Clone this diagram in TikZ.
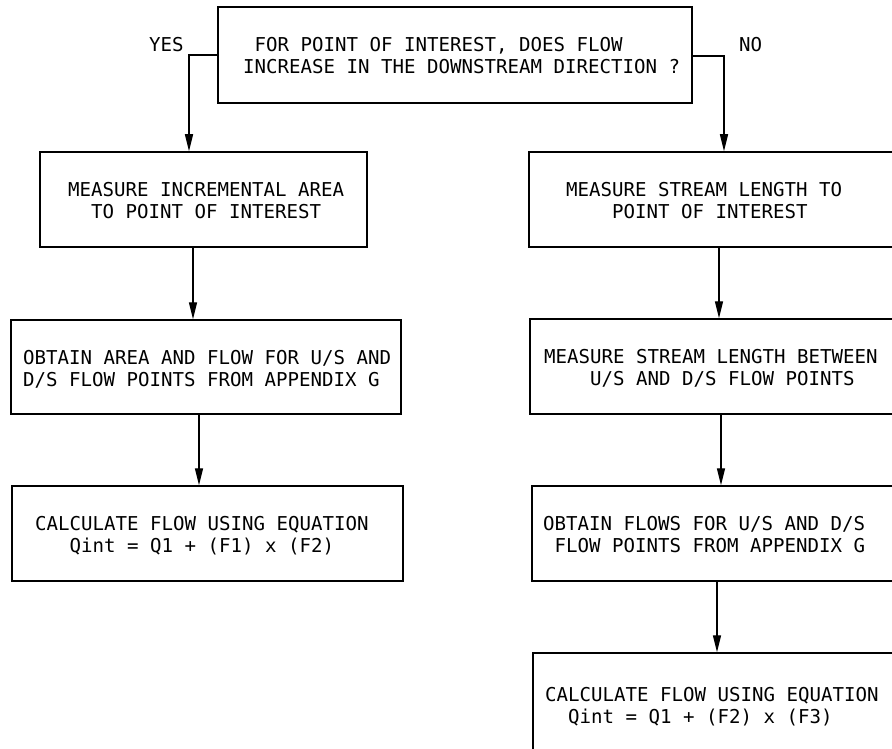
\documentclass[tikz,border=0pt]{standalone}
\usepackage{fontspec}
\setmonofont{DejaVu Sans Mono}
\usetikzlibrary{arrows.meta}
\tikzset{
  box/.style={draw, line width=1.5pt, inner sep=0pt, rectangle},
  txt/.style={inner sep=0pt, anchor=west, align=left, font=\ttfamily\fontsize{19.1}{22}\selectfont},
  arr/.style={line width=1.4pt, -{Triangle[length=17pt,width=8pt]}},
}
\begin{document}
\begin{tikzpicture}[x=1pt,y=-1pt]
\useasboundingbox (0,0) rectangle (892,749);
% boxes
\node[box, minimum width=474pt, minimum height=96pt] (t)  at (455,55) {};
\node[box, minimum width=327pt, minimum height=95pt] (l1) at (203.5,199.5) {};
\node[box, minimum width=390pt, minimum height=94pt] (l2) at (206,367) {};
\node[box, minimum width=391pt, minimum height=95pt] (l3) at (207.5,533.5) {};
\node[box, minimum width=411pt, minimum height=95pt] (r1) at (734.5,199.5) {};
\node[box, minimum width=410pt, minimum height=95pt] (r2) at (735,366.5) {};
\node[box, minimum width=408pt, minimum height=95pt] (r3) at (736,533.5) {};
\node[box, minimum width=407pt, minimum height=117pt] (r4) at (736.5,711.5) {};
% texts
\node[txt] (tt) at (243,56) {\hphantom{X}FOR POINT OF INTEREST, DOES FLOW\\INCREASE IN THE DOWNSTREAM DIRECTION ?};
\node[txt] (yes) at (149,45) {YES};
\node[txt] (no) at (739,45) {NO};
\node[txt] (l1t) at (68,200.5) {MEASURE INCREMENTAL AREA\\\hphantom{XX}TO POINT OF INTEREST};
\node[txt] (l2t) at (23,369) {OBTAIN AREA AND FLOW FOR U/S AND\\D/S FLOW POINTS FROM APPENDIX G};
\node[txt] (l3t) at (35,536) {CALCULATE FLOW USING EQUATION\\\hphantom{XXX}Qint = Q1 + (F1) x (F2)};
\node[txt] (r1t) at (566,200.5) {MEASURE STREAM LENGTH TO\\\hphantom{XXXX}POINT OF INTEREST};
\node[txt] (r2t) at (544,368.5) {MEASURE STREAM LENGTH BETWEEN\\\hphantom{XXXX}U/S AND D/S FLOW POINTS};
\node[txt] (r3t) at (543,535) {OBTAIN FLOWS FOR U/S AND D/S\\\hphantom{X}FLOW POINTS FROM APPENDIX G};
\node[txt] (r4t) at (545,706.5) {CALCULATE FLOW USING EQUATION\\\hphantom{XX}Qint = Q1 + (F2) x (F3)};
% connectors
\coordinate (ya) at (189,55);
\coordinate (na) at (724,56);
\draw[arr] (t.west) -- (ya) -- (ya |- l1.north);
\draw[arr] (t.east |- na) -- (na) -- (na |- r1.north);
\draw[arr] (l1.south -| 193,0) -- (l2.north -| 193,0);
\draw[arr] (l2.south -| 199,0) -- (l3.north -| 199,0);
\draw[arr] (r1.south -| 719,0) -- (r2.north -| 719,0);
\draw[arr] (r2.south -| 721,0) -- (r3.north -| 721,0);
\draw[arr] (r3.south -| 717,0) -- (r4.north -| 717,0);
\end{tikzpicture}
\end{document}
